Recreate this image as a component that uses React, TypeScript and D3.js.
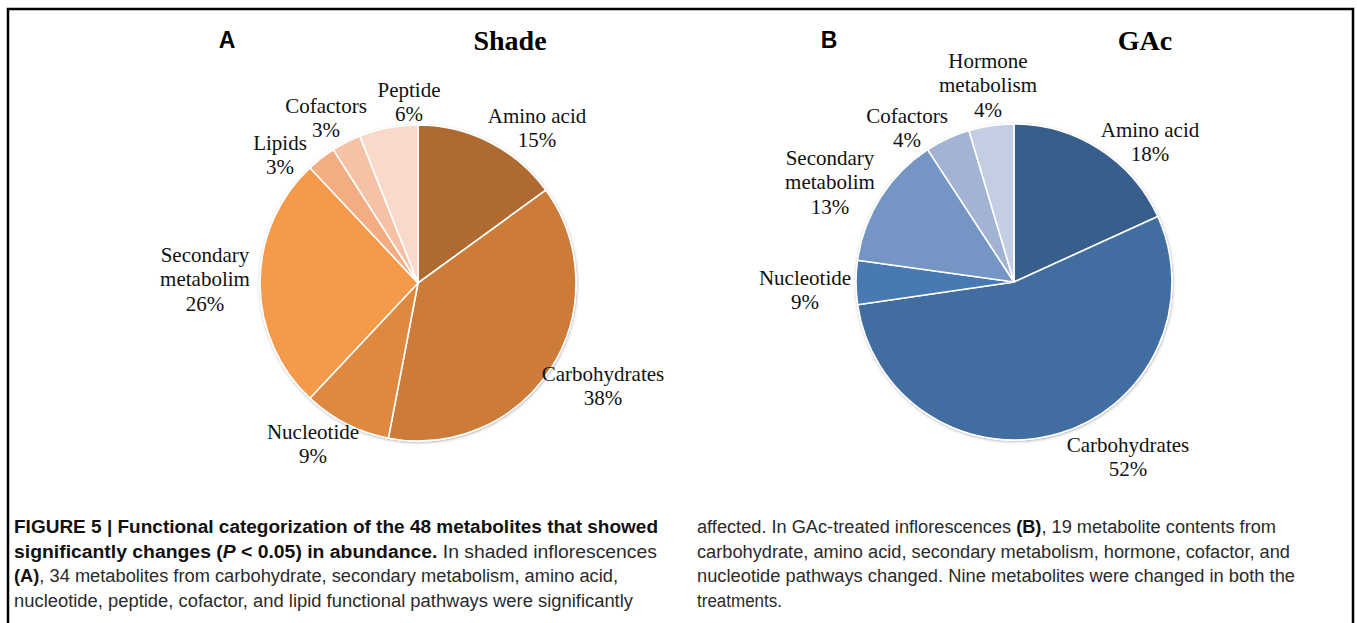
import React from 'react';
import {pie, arc} from 'd3';

// panel A (shade)
const shadeCategories = [['Amino acid'], ['Carbohydrates'], ['Nucleotide'], ['Secondary', 'metabolim'], ['Lipids'], ['Cofactors'], ['Peptide']];
const shadeValues = [15, 38, 9, 26, 3, 3, 6];
const shadeLabels = ['15%', '38%', '9%', '26%', '3%', '3%', '6%'];

// panel B (GAc) - slice sizes, labels as printed
const gacCategories = [['Amino acid'], ['Carbohydrates'], ['Nucleotide'], ['Secondary', 'metabolim'], ['Cofactors'], ['Hormone', 'metabolism']];
const gacValues = [18.2, 54.5, 4.5, 13.6, 4.6, 4.6];
const gacLabels = ['18%', '52%', '9%', '13%', '4%', '4%'];

const shadeColors = ['#AE6A31', '#CC7B39', '#DF8840', '#F59A4B', '#F4AD82', '#F6C2A6', '#F9D9CA'];
const gacColors = ['#385E8B', '#426DA0', '#4879B2', '#7596C5', '#A2B3D4', '#C3CDE3'];

// where the label text sits, relative to the pie centre (first line)
const shadeLabelPos = [[119, -167], [185, 91], [-105, 149], [-213, -28], [-138, -140], [-92, -177], [-9, -193]];
const gacLabelPos = [[136, -152], [114, 163], [-209, -4], [-184, -124], [-107, -166], [-26, -221]];

const captionLeft = [
    [{t: 'FIGURE 5 | Functional categorization of the 48 metabolites that showed', b: true}],
    [{t: 'significantly changes (', b: true}, {t: 'P', b: true, i: true}, {t: ' < 0.05) in abundance.', b: true}, {t: ' In shaded inflorescences'}],
    [{t: '(A)', b: true}, {t: ', 34 metabolites from carbohydrate, secondary metabolism, amino acid,'}],
    [{t: 'nucleotide, peptide, cofactor, and lipid functional pathways were significantly'}],
];
const captionRight = [
    [{t: 'affected. In GAc-treated inflorescences '}, {t: '(B)', b: true}, {t: ', 19 metabolite contents from'}],
    [{t: 'carbohydrate, amino acid, secondary metabolism, hormone, cofactor, and'}],
    [{t: 'nucleotide pathways changed. Nine metabolites were changed in both the'}],
    [{t: 'treatments.'}],
];
const leftWidths = [644, 643, 604, 619];
const rightWidths = [579, 593, 598, 85];

const serif = '"Liberation Serif", "Times New Roman", serif';
const sans = '"Liberation Sans", Arial, Helvetica, sans-serif';

const Pie = ({cx, cy, r, values, colors, categories, labels, labelPos}) => {
    const layout = pie().sort(null).value(d => d)
    const slices = layout(values)
    const sliceArc = arc().innerRadius(0).outerRadius(r)

    return (
        <g transform={`translate(${cx},${cy})`}>
            <circle r={r + 0.5} fill="#fff" filter="url(#pieShadow)" />
            {slices.map((d, idx) => (
                <path key={idx} d={sliceArc(d)} fill={colors[idx]} stroke="#fff" strokeWidth={1.6} strokeLinejoin="round" />
            ))}
            {slices.map((d, idx) => {
                const lines = [...categories[idx], labels[idx]]
                const [lx, ly] = labelPos[idx]
                return (
                    <text key={'l' + idx} x={lx} y={ly} textAnchor="middle" fontFamily={serif} fontSize={21} fill="#111">
                        {lines.map((line, j) => (
                            <tspan key={j} x={lx} y={ly + j * 24.3} dominantBaseline="central">{line}</tspan>
                        ))}
                    </text>
                )
            })}
        </g>
    )
}

const Caption = ({x, y, lines, widths}) => (
    <g>
        {lines.map((parts, idx) => (
            <text
                key={idx}
                x={x}
                y={y + idx * 24.5}
                fontFamily={sans}
                fontSize={18}
                fill="#222"
                textLength={widths[idx]}
                lengthAdjust="spacingAndGlyphs"
            >
                {parts.map((p, j) => (
                    <tspan key={j} fontWeight={p.b ? 'bold' : 'normal'} fontStyle={p.i ? 'italic' : 'normal'} fill={p.b ? '#111' : '#2a2a2a'}>{p.t}</tspan>
                ))}
            </text>
        ))}
    </g>
)

export default function App() {
    const width = 1357
    const height = 623

    return (
        <div>
            <style>{`body{margin:0;}`}</style>
            <svg width={width} height={height} style={{display: 'block', background: '#fff'}}>
                <defs>
                    <filter id="pieShadow" x="-10%" y="-10%" width="120%" height="120%">
                        <feDropShadow dx="0.5" dy="1" stdDeviation="1.5" floodColor="#000" floodOpacity="0.35" />
                    </filter>
                </defs>
                <rect x={8} y={9} width={1345} height={700} fill="none" stroke="#000" strokeWidth={2.5} />

                <text x={227} y={48} textAnchor="middle" fontFamily={sans} fontWeight="bold" fontSize={23} fill="#000">A</text>
                <text x={510} y={50} textAnchor="middle" fontFamily={serif} fontWeight="bold" fontSize={28} fill="#000">Shade</text>
                <text x={829} y={48} textAnchor="middle" fontFamily={sans} fontWeight="bold" fontSize={23} fill="#000">B</text>
                <text x={1145} y={50} textAnchor="middle" fontFamily={serif} fontWeight="bold" fontSize={28} fill="#000">GAc</text>

                <Pie cx={418} cy={283} r={158} values={shadeValues} colors={shadeColors}
                     categories={shadeCategories} labels={shadeLabels} labelPos={shadeLabelPos} />
                <Pie cx={1014} cy={282} r={158} values={gacValues} colors={gacColors}
                     categories={gacCategories} labels={gacLabels} labelPos={gacLabelPos} />

                <Caption x={14} y={533} lines={captionLeft} widths={leftWidths} />
                <Caption x={697} y={533} lines={captionRight} widths={rightWidths} />
            </svg>
        </div>
    );
}
